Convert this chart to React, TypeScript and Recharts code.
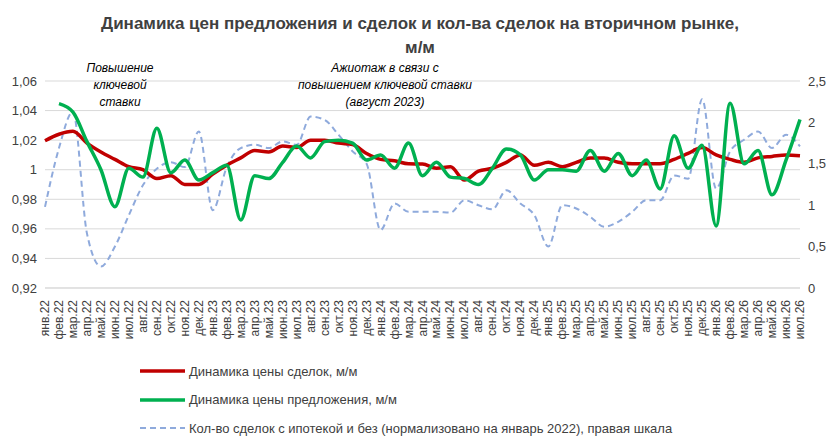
import React from 'react';
import { ComposedChart, Line, XAxis, YAxis, CartesianGrid } from 'recharts';

const months = [
  'янв.22', 'фев.22', 'мар.22', 'апр.22', 'май.22', 'июн.22', 'июл.22', 'авг.22', 'сен.22', 'окт.22', 'ноя.22', 'дек.22',
  'янв.23', 'фев.23', 'мар.23', 'апр.23', 'май.23', 'июн.23', 'июл.23', 'авг.23', 'сен.23', 'окт.23', 'ноя.23', 'дек.23',
  'янв.24', 'фев.24', 'мар.24', 'апр.24', 'май.24', 'июн.24', 'июл.24', 'авг.24', 'сен.24', 'окт.24', 'ноя.24', 'дек.24',
  'янв.25', 'фев.25', 'мар.25', 'апр.25', 'май.25', 'июн.25', 'июл.25', 'авг.25', 'сен.25', 'окт.25', 'ноя.25', 'дек.25',
  'янв.26', 'фев.26', 'мар.26', 'апр.26', 'май.26', 'июн.26', 'июл.26',
];

// динамика цены сделок, м/м
const dealPrice = [
  1.0196, 1.024, 1.026, 1.018, 1.012, 1.007, 1.002, 1.0, 0.994, 0.996, 0.99, 0.99,
  0.997, 1.003, 1.008, 1.013, 1.012, 1.016, 1.015, 1.02, 1.02, 1.018, 1.017, 1.011,
  1.007, 1.006, 1.004, 1.0038, 1.001, 1.002, 0.993, 0.999, 1.001, 1.005, 1.01, 1.003,
  1.005, 1.002, 1.005, 1.008, 1.008, 1.005, 1.004, 1.004, 1.004, 1.007, 1.011, 1.015,
  1.01, 1.007, 1.005, 1.008, 1.009, 1.01, 1.0095,
];

// динамика цены предложения, м/м
const offerPrice = [
  null, 1.0447, 1.039, 1.019, 1.0, 0.975, 1.001, 0.995, 1.028, 0.998, 1.0065, 0.993,
  0.998, 1.003, 0.966, 0.996, 0.994, 1.005, 1.016, 1.008, 1.019, 1.02, 1.018, 1.0065,
  1.01, 1.001, 1.018, 0.996, 1.005, 0.995, 0.994, 0.99, 1.001, 1.014, 1.01, 0.993,
  1.0, 1.0, 0.999, 1.013, 0.999, 1.011, 0.996, 1.0065, 0.987, 1.023, 1.001, 1.0166,
  0.962, 1.045, 1.004, 1.013, 0.983, 1.0065, 1.034,
];

// кол-во сделок, нормализовано на январь 2022 (правая шкала)
const dealCount = [
  0.98, 1.69, 2.13, 0.66, 0.26, 0.5, 0.88, 1.24, 1.44, 1.52, 1.46, 1.89,
  0.94, 1.46, 1.69, 1.73, 1.69, 1.77, 1.73, 2.07, 2.03, 1.85, 1.65, 1.5,
  0.7, 1.02, 0.92, 0.92, 0.92, 0.91, 1.06, 1.0, 0.95, 1.18, 1.02, 0.88,
  0.5, 1.0, 0.96, 0.86, 0.74, 0.8, 0.92, 1.06, 1.06, 1.36, 1.32, 2.28,
  1.2, 1.65, 1.79, 1.89, 1.69, 1.85, 1.71,
];

const leftTicks = [0.92, 0.94, 0.96, 0.98, 1, 1.02, 1.04, 1.06];
const rightTicks = [0, 0.5, 1, 1.5, 2, 2.5];

const data = months.map((m, i) => ({
  month: m,
  deal: dealPrice[i],
  offer: offerPrice[i],
  count: dealCount[i],
}));

const fmt = (v: number) => String(v).replace('.', ',');
const font = '"Liberation Sans", Arial, sans-serif';

const MonthTick = ({ x, y, payload }: any) => (
  <text x={x + 4} y={y + 4} transform={`rotate(-90 ${x + 4} ${y + 4})`} textAnchor="end" fontSize={12} fill="#404040" fontFamily={font}>
    {payload.value}
  </text>
);

const legendItems = [
  { label: 'Динамика цены сделок, м/м', color: '#c00000', dash: undefined, w: 3.5 },
  { label: 'Динамика цены предложения, м/м', color: '#00b050', dash: undefined, w: 3.5 },
  { label: 'Кол-во сделок с ипотекой и без (нормализовано на январь 2022),  правая шкала', color: '#8faadc', dash: '6 4', w: 2 },
];

export default function App() {
  return (
    <div style={{ position: 'absolute', left: 0, top: 0, width: 840, height: 441, background: '#fff', fontFamily: font, color: '#404040', overflow: 'hidden' }}>
      <div style={{ position: 'absolute', left: 0, top: 12, width: 840, textAlign: 'center', fontWeight: 'bold', fontSize: 17, lineHeight: '24px' }}>
        Динамика цен предложения и сделок и кол-ва сделок на вторичном рынке,<br />м/м
      </div>
      <ComposedChart width={840} height={350} data={data} margin={{ top: 81, right: 0, left: 0, bottom: 2 }}>
        <CartesianGrid vertical={false} stroke="#d9d9d9" yAxisId="left" />
        <XAxis dataKey="month" interval={0} height={60} tick={<MonthTick />} tickLine={false} axisLine={{ stroke: '#d9d9d9' }} />
        <YAxis yAxisId="left" domain={[0.92, 1.06]} ticks={leftTicks} width={45} tickFormatter={fmt}
          axisLine={false} tickLine={false} tick={{ fontSize: 13, fill: '#404040', fontFamily: font }} />
        <YAxis yAxisId="right" orientation="right" domain={[0, 2.5]} ticks={rightTicks} width={40} tickFormatter={fmt}
          axisLine={false} tickLine={false} tick={{ fontSize: 13, fill: '#404040', fontFamily: font }} />
        <Line yAxisId="right" type="monotone" dataKey="count" stroke="#8faadc" strokeWidth={2} strokeDasharray="6 4" dot={false} isAnimationActive={false} />
        <Line yAxisId="left" type="monotone" dataKey="deal" stroke="#c00000" strokeWidth={3.5} dot={false} isAnimationActive={false} />
        <Line yAxisId="left" type="monotone" dataKey="offer" stroke="#00b050" strokeWidth={3.5} dot={false} connectNulls={false} isAnimationActive={false} />
      </ComposedChart>
      <div style={{ position: 'absolute', left: 60, top: 60, width: 120, textAlign: 'center', fontStyle: 'italic', fontSize: 12, lineHeight: '17px', color: '#000' }}>
        Повышение<br />ключевой<br />ставки
      </div>
      <div style={{ position: 'absolute', left: 285, top: 60, width: 200, textAlign: 'center', fontStyle: 'italic', fontSize: 12, lineHeight: '17px', color: '#000' }}>
        Ажиотаж в связи с<br />повышением ключевой ставки<br />(август 2023)
      </div>
      <div style={{ position: 'absolute', left: 140, top: 357 }}>
        {legendItems.map((it) => (
          <div key={it.label} style={{ display: 'flex', alignItems: 'center', height: 28.5, fontSize: 13 }}>
            <svg width={45} height={10} style={{ marginRight: 4 }}>
              <line x1={0} y1={5} x2={45} y2={5} stroke={it.color} strokeWidth={it.w} strokeDasharray={it.dash} />
            </svg>
            <span>{it.label}</span>
          </div>
        ))}
      </div>
    </div>
  );
}
